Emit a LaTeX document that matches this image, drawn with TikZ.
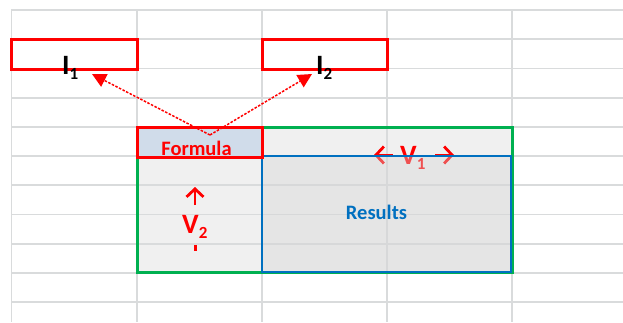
\documentclass[tikz,border=0pt]{standalone}
\usepackage{fontspec}
\setmainfont{Carlito}
\usetikzlibrary{arrows.meta}
\definecolor{gridgray}{HTML}{D9DBDC}
\definecolor{xred}{HTML}{FF0000}
\definecolor{xgreen}{HTML}{00B050}
\definecolor{xblue}{HTML}{0070C0}
\definecolor{panelfill}{HTML}{F0F0F0}
\definecolor{formfill}{HTML}{D0DCEA}
\definecolor{resfill}{HTML}{D5D5D5}
\newcommand{\subtxt}[1]{\raisebox{-5pt}{\fontsize{17}{17}\selectfont #1}}
\begin{document}
\begin{tikzpicture}[x=1pt,y=-1pt,
  gridline/.style={gridgray, line width=1.8pt},
  plainbox/.style={inner sep=0pt, outer sep=0pt},
  redbox/.style={plainbox, draw=xred, line width=3pt},
  bigtxt/.style={font=\bfseries\fontsize{28}{28}\selectfont, inner sep=0pt, anchor=base west},
  midtxt/.style={font=\bfseries\fontsize{20.5}{20.5}\selectfont, inner sep=0pt, anchor=base},
  ptr/.style={xred, line width=1.5pt, dash pattern=on 2.5pt off 1.5pt, -{Triangle[length=14pt,width=14pt]}},
  dirarrow/.style={xred, line width=2.8pt, -{Straight Barb[length=8pt,width=17pt,line width=2.8pt]}},
]
\useasboundingbox (0,0) rectangle (623,322);
% panel fill
\node[plainbox, fill=panelfill, minimum width=375pt, minimum height=145pt] (panel) at (324.5,199.5) {};
% grid
\foreach \x in {11.5,137,262,387,512} \draw[gridline] (\x,10) -- (\x,322);
\foreach \k in {0,...,10} \draw[gridline] (11,{10+29.2*\k}) -- (623,{10+29.2*\k});
% V1 label with arrows (drawn beneath results overlay)
\node[bigtxt, text=xred] (v1) at (400,164) {V\subtxt{1}};
\coordinate (v1ls) at (393,155);
\coordinate (v1le) at (374,155);
\coordinate (v1rs) at (435,155);
\coordinate (v1re) at (454,155);
\draw[dirarrow] (v1ls) -- (v1le);
\draw[dirarrow] (v1rs) -- (v1re);
% results overlay
\node[plainbox, fill=resfill, fill opacity=0.375, minimum width=249pt, minimum height=116pt] (results) at (386.5,214) {};
% borders
\draw[xgreen, line width=3pt] (panel.north west) rectangle (panel.south east);
\draw[xblue, line width=1.8pt] (results.north west) rectangle (results.south east);
\node[midtxt, text=xblue] (restxt) at (376.5,219) {Results};
% formula box
\node[redbox, fill=formfill, minimum width=125pt, minimum height=30pt] (formula) at (199.5,142) {};
\node[midtxt, text=xred] (formtxt) at (196.5,155) {Formula};
% I boxes
\node[redbox, minimum width=126pt, minimum height=30pt] (i1box) at (74,54) {};
\node[redbox, minimum width=125pt, minimum height=30pt] (i2box) at (324.5,54) {};
\node[bigtxt] (i1) at (62,74) {I\subtxt{1}};
\node[bigtxt] (i2) at (316,74) {I\subtxt{2}};
% V2
\node[bigtxt, text=xred] (v2) at (182,233) {V\subtxt{2}};
\coordinate (v2s) at (195,205);
\coordinate (v2e) at (195,187);
\draw[dirarrow] (v2s) -- (v2e);
\coordinate (v2da) at (195,245);
\coordinate (v2db) at (195,251);
\draw[xred, line width=3pt] (v2da) -- (v2db);
% pointers
\coordinate (apex) at (210,135);
\coordinate (t1) at (92,74);
\coordinate (t2) at (312,74);
\draw[ptr] (apex) -- (t1);
\draw[ptr] (apex) -- (t2);
\end{tikzpicture}
\end{document}
